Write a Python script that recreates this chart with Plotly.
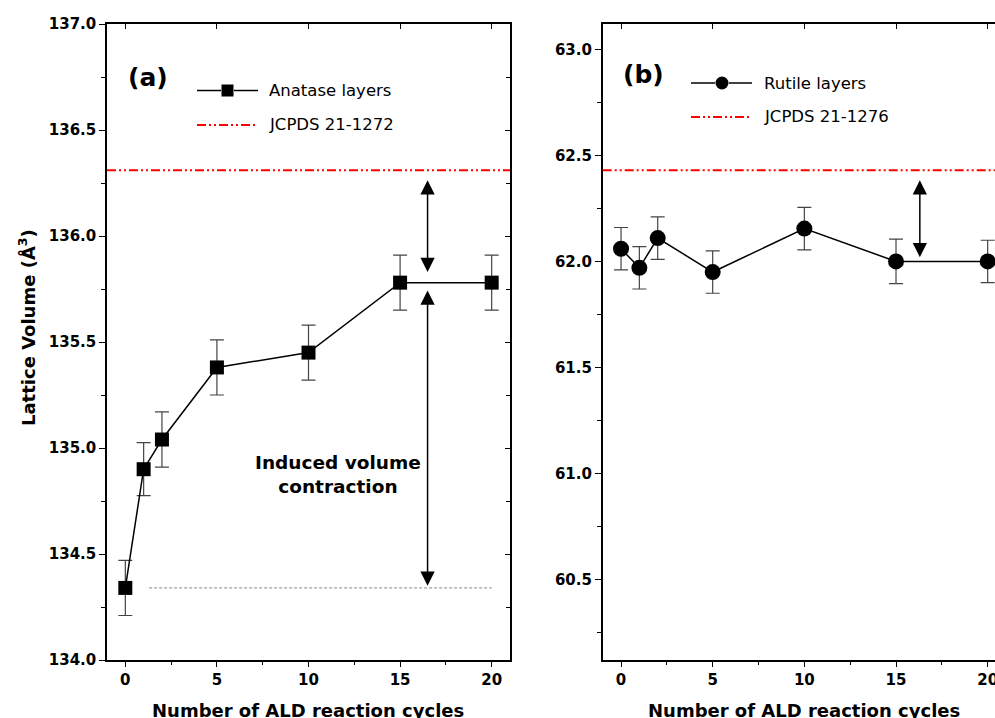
import plotly.graph_objects as go

# ---------------- data ----------------
cycles_a = [0, 1, 2, 5, 10, 15, 20]
anatase_vol = [134.34, 134.90, 135.04, 135.38, 135.45, 135.78, 135.78]
anatase_err = [0.13, 0.125, 0.13, 0.13, 0.13, 0.13, 0.13]
anatase_ref = 136.31          # JCPDS 21-1272

cycles_b = [0, 1, 2, 5, 10, 15, 20]
rutile_vol = [62.06, 61.97, 62.11, 61.95, 62.155, 62.00, 62.00]
rutile_err = [0.10, 0.10, 0.10, 0.10, 0.10, 0.105, 0.10]
rutile_ref = 62.43            # JCPDS 21-1276

arrow_x_a = 16.5
arrow_x_b = 16.3

W, H = 995, 718
FONT = "DejaVu Sans, Verdana, sans-serif"


def px(x):
    return x / W


def py(y):
    return 1 - y / H


fig = go.Figure()

# ---------------- traces ----------------
fig.add_trace(go.Scatter(
    x=cycles_a, y=anatase_vol, mode="lines+markers", xaxis="x", yaxis="y",
    line=dict(color="black", width=1.5),
    marker=dict(symbol="square", size=14, color="black"),
    error_y=dict(type="data", array=anatase_err, color="#444", thickness=1.2, width=7),
    showlegend=False, name="Anatase layers"))

fig.add_trace(go.Scatter(
    x=cycles_b, y=rutile_vol, mode="lines+markers", xaxis="x2", yaxis="y2",
    line=dict(color="black", width=1.5),
    marker=dict(symbol="circle", size=16, color="black"),
    error_y=dict(type="data", array=rutile_err, color="#444", thickness=1.2, width=7),
    showlegend=False, name="Rutile layers"))

# invisible companions so that the mirrored (inside-tick) frame axes are drawn
fig.add_trace(go.Scatter(x=cycles_a, y=anatase_vol, xaxis="x3", yaxis="y3", mode="markers",
                         marker=dict(opacity=0), hoverinfo="skip", showlegend=False))
fig.add_trace(go.Scatter(x=cycles_b, y=rutile_vol, xaxis="x4", yaxis="y2", mode="markers",
                         marker=dict(opacity=0), hoverinfo="skip", showlegend=False))

# ---------------- axes ----------------
dom_y = [py(660), py(24)]
dom_xa = [px(107), px(510)]
dom_xb = [px(602.7), 1.0]
tickfont = dict(family=FONT, size=15, color="black", weight="bold")

common_x = dict(showgrid=False, zeroline=False, showline=True, linecolor="black",
                linewidth=1.5, ticks="outside", ticklen=5, tickwidth=1.2,
                tickcolor="black", dtick=5, tick0=0, tickfont=tickfont,
                ticklabeloverflow="allow",
                minor=dict(dtick=2.5, ticklen=3, ticks="outside", tickcolor="black", tickwidth=1),
                automargin=False)
common_y = dict(showgrid=False, zeroline=False, showline=True, linecolor="black",
                linewidth=1.5, ticks="outside", ticklen=6, tickwidth=1.2,
                tickcolor="black", dtick=0.5, tickformat=".1f", tickfont=tickfont,
                minor=dict(dtick=0.25, ticklen=4, ticks="outside", tickcolor="black", tickwidth=1),
                automargin=False)
frame = dict(showgrid=False, zeroline=False, showline=True, linecolor="black", linewidth=1.5,
             ticks="inside", ticklen=5, tickcolor="black", tickwidth=1.2,
             showticklabels=False, automargin=False)

fig.update_layout(
    xaxis=dict(domain=dom_xa, range=[-1, 21], anchor="y", **common_x),
    yaxis=dict(domain=dom_y, range=[134, 137], anchor="x", **common_y),
    xaxis2=dict(domain=dom_xb, range=[-1, 20.40], anchor="y2", **common_x),
    yaxis2=dict(domain=dom_y, range=[60.12, 63.12], anchor="x2", tick0=60.5, **common_y),
    xaxis3=dict(overlaying="x", side="top", anchor="y", range=[-1, 21], dtick=5, tick0=0, **frame),
    yaxis3=dict(overlaying="y", side="right", anchor="x", range=[134, 137], dtick=0.5,
                minor=dict(dtick=0.25, ticklen=4, ticks="inside", tickcolor="black", tickwidth=1),
                **frame),
    xaxis4=dict(overlaying="x2", side="top", anchor="y2", range=[-1, 20.40], dtick=5, tick0=0,
                **frame),
)

# ---------------- reference lines ----------------
red_dash = "9px,3px,2px,3px,2px,3px"
fig.add_shape(type="line", xref="x domain", yref="y", x0=0, x1=1, y0=anatase_ref, y1=anatase_ref,
              line=dict(color="red", width=2, dash=red_dash))
fig.add_shape(type="line", xref="x2 domain", yref="y2", x0=0, x1=1, y0=rutile_ref, y1=rutile_ref,
              line=dict(color="red", width=2, dash=red_dash))
# grey dashed baseline at initial anatase volume
fig.add_shape(type="line", xref="x", yref="y", x0=1.3, x1=20, y0=anatase_vol[0], y1=anatase_vol[0],
              line=dict(color="#888", width=1, dash="3px,2px"))

# ---------------- arrows ----------------
def darrow(xr, yr, x, y0, y1):
    fig.add_annotation(x=x, y=y1, ax=x, ay=y0, xref=xr, yref=yr, axref=xr, ayref=yr,
                       text="", showarrow=True, arrowhead=2, startarrowhead=2,
                       arrowside="end+start", arrowsize=1.9, startarrowsize=1.9,
                       arrowwidth=1.5, arrowcolor="black")

darrow("x", "y", arrow_x_a, anatase_ref - 0.04, anatase_vol[-1] + 0.05)
darrow("x", "y", arrow_x_a, anatase_vol[-1] - 0.03, anatase_vol[0] + 0.01)
darrow("x2", "y2", arrow_x_b, rutile_ref - 0.04, rutile_vol[-1] + 0.02)

# ---------------- texts ----------------
def txt(x, y, s, size, bold=False, xanchor="center", angle=0):
    fig.add_annotation(x=px(x), y=py(y), xref="paper", yref="paper", text=s, showarrow=False,
                       xanchor=xanchor, yanchor="middle", textangle=angle,
                       font=dict(family=FONT, size=size, color="black",
                                 weight="bold" if bold else "normal"))

txt(147.5, 77, "(a)", 25, bold=True)
txt(643, 75, "(b)", 25, bold=True)
txt(253, 474, "Induced volume<br>contraction", 18.5, bold=True, xanchor="left")
txt(27, 328, "Lattice Volume (Å<sup>3</sup>)", 18, bold=True, angle=-90)
txt(308, 710, "Number of ALD reaction cycles", 18, bold=True)
txt(804, 710, "Number of ALD reaction cycles", 18, bold=True)

# legends (drawn manually)
txt(267, 90.5, "Anatase layers", 16.5, xanchor="left")
txt(267, 124, "JCPDS 21-1272", 16.5, xanchor="left")
txt(762, 83, "Rutile layers", 16.5, xanchor="left")
txt(762, 117, "JCPDS 21-1276", 16.5, xanchor="left")

def pline(x0, x1, y, color="black", dash="solid", width=1.5):
    fig.add_shape(type="line", xref="paper", yref="paper", x0=px(x0), x1=px(x1), y0=py(y), y1=py(y),
                  line=dict(color=color, width=width, dash=dash))

pline(197, 221, 90.5)
pline(234, 258, 90.5)
fig.add_shape(type="rect", xref="paper", yref="paper", x0=px(221.5), x1=px(233.5),
              y0=py(96.5), y1=py(84.5), fillcolor="black", line=dict(width=0))
pline(197, 258, 125, color="red", dash=red_dash, width=2)

pline(691, 715, 83)
pline(729, 752, 83)
fig.add_shape(type="circle", xref="paper", yref="paper", x0=px(715.5), x1=px(728.5),
              y0=py(89.5), y1=py(76.5), fillcolor="black", line=dict(width=0))
pline(691, 752, 117, color="red", dash=red_dash, width=2)

fig.update_layout(width=W, height=H, margin=dict(l=0, r=0, t=0, b=0),
                  plot_bgcolor="white", paper_bgcolor="white", showlegend=False,
                  font=dict(family=FONT, color="black"))

fig.write_html("out.html", config={"displayModeBar": False},
               post_script="document.body.style.margin='0';document.body.style.overflow='hidden';")
